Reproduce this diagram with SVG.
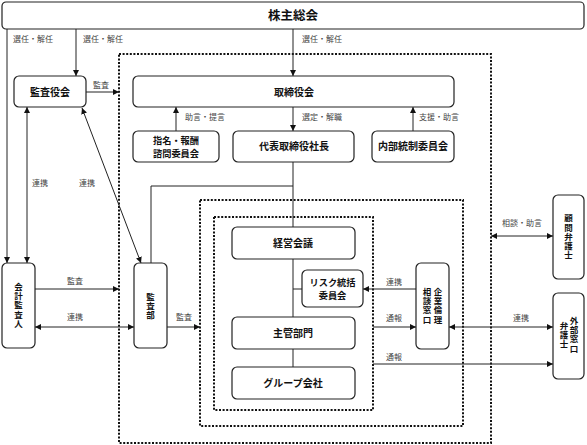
<svg xmlns="http://www.w3.org/2000/svg" width="587" height="445" viewBox="0 0 587 445">
<defs>
<marker id="ah" viewBox="0 0 6 6" refX="6" refY="3" markerWidth="6" markerHeight="6" markerUnits="userSpaceOnUse" orient="auto-start-reverse"><path d="M0,0 L6,3 L0,6 Z" fill="#111"/></marker>
</defs>
<style>
.box{fill:#fff;stroke:#222;stroke-width:1.2}
.dot{fill:none;stroke:#111;stroke-width:2;stroke-dasharray:2 1.6}
.ln{fill:none;stroke:#222;stroke-width:1}
.a{marker-end:url(#ah)}
.d{marker-start:url(#ah);marker-end:url(#ah)}
.t{font-family:"Noto Sans CJK JP","Noto Sans",sans-serif;font-size:10px;font-weight:700;fill:#111;text-anchor:middle}
.t2{font-family:"Noto Sans CJK JP","Noto Sans",sans-serif;font-size:9.2px;font-weight:700;fill:#111;text-anchor:middle}
.v{font-family:"Noto Sans CJK JP","Noto Sans",sans-serif;font-size:8.5px;font-weight:700;fill:#111;text-anchor:middle;writing-mode:vertical-rl;letter-spacing:0.8px}
.l{font-family:"Noto Sans CJK JP","Noto Sans",sans-serif;font-size:8px;fill:#444}
</style>
<rect width="587" height="445" fill="#fff"/>
<g id="scopes">
<rect class="dot" x="119" y="54" width="372" height="389"/>
<rect class="dot" x="200" y="200" width="263" height="226"/>
<rect class="dot" x="214" y="217" width="159" height="193"/>
</g>
<g id="connectors">
<line class="ln a" x1="7" y1="29" x2="7" y2="263"/>
<line class="ln a" x1="76" y1="29" x2="76" y2="76"/>
<line class="ln a" x1="293" y1="29" x2="293" y2="76"/>
<line class="ln a" x1="86" y1="92" x2="119" y2="92"/>
<line class="ln a" x1="176" y1="131" x2="176" y2="107"/>
<line class="ln a" x1="293" y1="107" x2="293" y2="131"/>
<line class="ln a" x1="413" y1="131" x2="413" y2="107"/>
<line class="ln d" x1="27" y1="107" x2="27" y2="263"/>
<line class="ln d" x1="82" y1="108" x2="141" y2="263"/>
<polyline class="ln" points="293,162 293,227"/>
<polyline class="ln" points="293,186 151,186 151,263"/>
<line class="ln" x1="293" y1="259" x2="293" y2="367"/>
<line class="ln" x1="293" y1="289" x2="302" y2="289"/>
<line class="ln a" x1="416" y1="289" x2="363" y2="289"/>
<line class="ln a" x1="373" y1="327" x2="416" y2="327"/>
<line class="ln a" x1="373" y1="364" x2="553" y2="364"/>
<line class="ln d" x1="449" y1="327" x2="553" y2="327"/>
<line class="ln d" x1="491" y1="236" x2="553" y2="236"/>
<line class="ln a" x1="35" y1="289" x2="119" y2="289"/>
<line class="ln d" x1="35" y1="327" x2="134" y2="327"/>
<line class="ln a" x1="167" y1="327" x2="200" y2="327"/>
<text class="l" x="13" y="42">選任・解任</text>
<text class="l" x="83" y="42">選任・解任</text>
<text class="l" x="302" y="42">選任・解任</text>
<text class="l" x="93" y="88">監査</text>
<text class="l" x="185" y="120">助言・提言</text>
<text class="l" x="302" y="120">選定・解職</text>
<text class="l" x="419" y="120">支援・助言</text>
<text class="l" x="32" y="186">連携</text>
<text class="l" x="79" y="186">連携</text>
<text class="l" x="67" y="284">監査</text>
<text class="l" x="67" y="320">連携</text>
<text class="l" x="176" y="320">監査</text>
<text class="l" x="386" y="285">連携</text>
<text class="l" x="386" y="321">通報</text>
<text class="l" x="386" y="360">通報</text>
<text class="l" x="513" y="321">連携</text>
<text class="l" x="502" y="226">相談・助言</text>
</g>
<g id="shareholders">
<rect class="box" x="2" y="2" width="582" height="27" rx="4"/>
<text class="t" x="293" y="20" style="font-size:12.5px">株主総会</text>
</g>
<g id="auditboard">
<rect class="box" x="14" y="76" width="72" height="31" rx="5"/>
<text class="t" x="50" y="95.5">監査役会</text>
</g>
<g id="board">
<rect class="box" x="133" y="76" width="321" height="31" rx="5"/>
<text class="t" x="294" y="95.5">取締役会</text>
</g>
<g id="nomination">
<rect class="box" x="133" y="131" width="86" height="31" rx="5"/>
<text class="t2" x="176" y="143.5">指名・報酬</text>
<text class="t2" x="176" y="157">諮問委員会</text>
</g>
<g id="president">
<rect class="box" x="233" y="131" width="121" height="31" rx="5"/>
<text class="t" x="294" y="150">代表取締役社長</text>
</g>
<g id="internalcontrol">
<rect class="box" x="372" y="131" width="82" height="31" rx="5"/>
<text class="t" x="413" y="150">内部統制委員会</text>
</g>
<g id="management">
<rect class="box" x="232" y="227" width="123" height="32" rx="5"/>
<text class="t" x="293" y="246.5">経営会議</text>
</g>
<g id="risk">
<rect class="box" x="302" y="270" width="61" height="37" rx="5"/>
<text class="t2" x="332.5" y="285.5">リスク統括</text>
<text class="t2" x="332.5" y="299">委員会</text>
</g>
<g id="division">
<rect class="box" x="232" y="317" width="123" height="32" rx="5"/>
<text class="t" x="293" y="336.5">主管部門</text>
</g>
<g id="group">
<rect class="box" x="232" y="367" width="123" height="32" rx="5"/>
<text class="t" x="293" y="386.5">グループ会社</text>
</g>
<g id="accountant">
<rect class="box" x="2" y="263" width="33" height="85" rx="5"/>
<text class="v" x="18.5" y="305.5">会計監査人</text>
</g>
<g id="auditdept">
<rect class="box" x="134" y="263" width="33" height="85" rx="5"/>
<text class="v" x="150.5" y="306">監査部</text>
</g>
<g id="ethics">
<rect class="box" x="416" y="263" width="33" height="86" rx="5"/>
<text class="v" x="438" y="306">企業倫理</text>
<text class="v" x="427" y="306">相談窓口</text>
</g>
<g id="counsel">
<rect class="box" x="553" y="195" width="31" height="84" rx="5"/>
<text class="v" x="568.5" y="237">顧問弁護士</text>
</g>
<g id="externallawyer">
<rect class="box" x="553" y="293" width="31" height="86" rx="5"/>
<text class="v" x="574" y="335">外部窓口</text>
<text class="v" x="564" y="335">弁護士</text>
</g>
</svg>
